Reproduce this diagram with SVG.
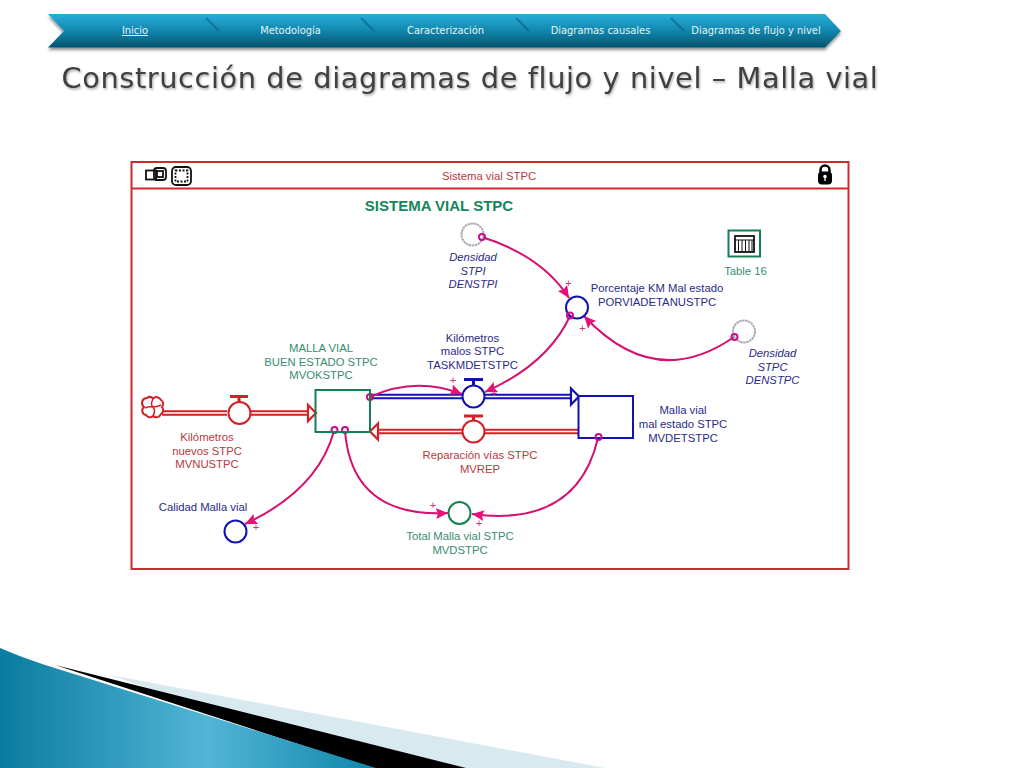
<svg xmlns="http://www.w3.org/2000/svg" width="1024" height="768" viewBox="0 0 1024 768">
<style>
text{font-family:"Liberation Sans",Arial,sans-serif;font-size:11.3px;text-anchor:middle}
.nav{font-family:"DejaVu Sans",sans-serif;font-size:9.9px;fill:#e4f3f8}
.red{fill:#b8383c}.blue{fill:#2a2a8a}.green{fill:#3a8c70}.pl{fill:#c8307e;font-size:11px}
.i{font-style:italic}
.rf{fill:#fff;stroke:#d32027;stroke-width:2}
.bf{fill:#fff;stroke:#1212b0;stroke-width:2}
.gf{fill:#fff;stroke:#148050;stroke-width:2}
.gc{fill:#fff;stroke:#a8a8b4;stroke-width:2;stroke-dasharray:2.500 .6}
.lnk{fill:none;stroke:#d5106f;stroke-width:2;marker-end:url(#ah)}
.dot{fill:none;stroke:#c8108c;stroke-width:2}
.pipeR{stroke:#d32027;stroke-width:5.500;fill:none}
.pipeB{stroke:#1212b0;stroke-width:5.500;fill:none}
.inner{stroke:#fff;stroke-width:1.300;fill:none}
.ic{fill:none;stroke:#111;stroke-width:1.800}
</style>
<defs>
<marker id="ah" markerUnits="userSpaceOnUse" markerWidth="14" markerHeight="12" refX="12" refY="5.500" orient="auto"><path d="M0 0L12 5.500L0 11L2 5.500Z" fill="#e6107a"/></marker>
<linearGradient id="bar" x1="0" y1="0" x2="0" y2="1"><stop offset="0" stop-color="#28aedb"/><stop offset=".5" stop-color="#1187ad"/><stop offset="1" stop-color="#04536f"/></linearGradient>
<linearGradient id="wave" x1="0" y1="0" x2="1" y2="0"><stop offset="0" stop-color="#0a7c9f"/><stop offset=".55" stop-color="#52b5d6"/><stop offset="1" stop-color="#0f86a9"/></linearGradient>
<filter id="sh" x="-5%" y="-20%" width="110%" height="150%"><feDropShadow dx="0" dy="2.500" stdDeviation="1.500" flood-color="#000" flood-opacity=".45"/></filter>
<filter id="ts" x="-5%" y="-20%" width="110%" height="150%"><feDropShadow dx="1" dy="1.500" stdDeviation="1" flood-color="#000" flood-opacity=".35"/></filter>
</defs>
<rect width="1024" height="768" fill="#fff"/>
<g id="footer">
<path d="M110 675L605 768H380Z" fill="#d9e9f0"/>
<path d="M55 665L466 768H372Z" fill="#000"/>
<path d="M0 648Q28 660 58 669L376 768H0Z" fill="url(#wave)"/>
</g>
<g id="nav">
<path d="M48 14H825L841 31L825 47.500H48L64 31Z" fill="url(#bar)" filter="url(#sh)"/>
<path d="M206 18L219 31M361 18L374 31M516 18L529 31M671 18L684 31" stroke="#0a5f7f" stroke-width="2" opacity=".6"/>
<text class="nav" x="135" y="34" text-decoration="underline">Inicio</text>
<text class="nav" x="290.500" y="34">Metodología</text>
<text class="nav" x="445.500" y="34">Caracterización</text>
<text class="nav" x="600.500" y="34">Diagramas causales</text>
<text class="nav" x="756" y="34">Diagramas de flujo y nivel</text>
</g>
<text id="title" x="470" y="88" style="font-family:'DejaVu Sans',sans-serif;font-size:28.800px;fill:#404040;letter-spacing:.6px" filter="url(#ts)">Construcción de diagramas de flujo y nivel – Malla vial</text>
<g id="frame">
<rect x="131.500" y="162" width="717" height="407" fill="#fff" stroke="#cc2a30" stroke-width="2"/>
<path d="M131.500 188.500H848.500" stroke="#cc2a30" stroke-width="2"/>
<text class="red" x="489" y="180">Sistema vial STPC</text>
<text x="439" y="211" style="font-size:15px;font-weight:bold;fill:#14875a">SISTEMA VIAL STPC</text>
<g id="icons">
<rect class="ic" x="146" y="170.500" width="10" height="9"/><rect class="ic" x="154" y="168" width="12" height="12" rx="3" stroke-width="2.400"/><rect class="ic" x="157" y="171" width="6" height="6"/>
<rect class="ic" x="172" y="167" width="19" height="18" rx="4" stroke-width="2.400"/><rect class="ic" x="175.500" y="170.500" width="12" height="11" stroke-dasharray="2 1.500" stroke-width="1"/>
<path d="M820.500 172V170a4.500 4.500 0 0 1 9 0V172" fill="none" stroke="#000" stroke-width="2.500"/><rect x="818" y="171.500" width="14" height="13" rx="4" fill="#000"/><circle cx="825" cy="176.500" r="1.800" fill="#fff"/><path d="M825 177V181" stroke="#fff" stroke-width="1.300"/>
</g>
</g>
<g id="connectors">
<path class="pipeR" d="M162 413H227M250 413H308"/><path class="inner" d="M162 413H227M250 413H308"/>
<path d="M308 405L316 413L308 421Z" fill="#fff" stroke="#d32027" stroke-width="2.200"/>
<path class="pipeB" d="M370 396.500H462M485 396.500H571"/><path class="inner" d="M370 396.500H462M485 396.500H571"/>
<path d="M571 388.500L579 396.500L571 404.500Z" fill="#fff" stroke="#1212b0" stroke-width="2.200"/>
<path class="pipeR" d="M578 431.500H485M462 431.500H378"/><path class="inner" d="M578 431.500H485M462 431.500H378"/>
<path d="M378 423.500L370 431.500L378 439.500Z" fill="#fff" stroke="#d32027" stroke-width="2.200"/>
<path class="lnk" d="M370 397Q415 376 462 394"/>
<path class="lnk" d="M570 316Q548 364 485 392"/>
<path class="lnk" d="M482 237Q542 256 569 298"/>
<path class="lnk" d="M734 337Q655 392 584 316"/>
<path class="lnk" d="M334 431Q318 490 245 524"/>
<path class="lnk" d="M345 431Q352 518 448 513"/>
<path class="lnk" d="M598 438Q577 528 472 514"/>
<circle class="dot" cx="370" cy="397" r="3"/>
<circle class="dot" cx="334.500" cy="430" r="3"/>
<circle class="dot" cx="345" cy="430" r="3"/>
</g>
<g id="source">
<path d="M147 398a4.500 4.500 0 0 1 6 0.500a5 5 0 0 1 8 1.500a4.500 4.500 0 0 1 1 7a4.500 4.500 0 0 1 -1 7a5 5 0 0 1 -8 2a4.500 4.500 0 0 1 -7 -1a4.500 4.500 0 0 1 -2 -8a5 5 0 0 1 3 -9z" fill="#fff" stroke="#d32027" stroke-width="2"/>
<path d="M153 399q-3 6 0 8q4 0 8 -2M153 416q3 -5 0 -9q-4 -1 -8 1" fill="none" stroke="#d32027" stroke-width="1.500"/>
</g>
<g id="flow-nuevos">
<path d="M230 396.500H248M239 398V402" stroke="#d32027" stroke-width="3" fill="none"/>
<circle class="rf" cx="239.500" cy="413" r="11"/>
<text class="red"><tspan x="207" y="441">Kilómetros</tspan><tspan x="207" y="454.500">nuevos STPC</tspan><tspan x="207" y="468">MVNUSTPC</tspan></text>
</g>
<g id="stock-buen">
<rect x="315.500" y="390" width="54.500" height="42" fill="#fff" fill-opacity="0" stroke="#148050" stroke-width="2"/>
<text class="green"><tspan x="321" y="352">MALLA VIAL</tspan><tspan x="321" y="365.500">BUEN ESTADO STPC</tspan><tspan x="321" y="379">MVOKSTPC</tspan></text>
</g>
<g id="flow-malos">
<path d="M464 379.500H483M473.500 381V385" stroke="#1212b0" stroke-width="3" fill="none"/>
<circle class="bf" cx="473.500" cy="396.500" r="11"/>
<text class="blue"><tspan x="472.500" y="342">Kilómetros</tspan><tspan x="472.500" y="355">malos STPC</tspan><tspan x="472.500" y="369">TASKMDETSTPC</tspan></text>
<text class="pl" x="453" y="384">+</text><text class="pl" x="494" y="397">+</text>
</g>
<g id="flow-reparacion">
<path d="M464 416H483M473.500 417V421" stroke="#d32027" stroke-width="3" fill="none"/>
<circle class="rf" cx="473.500" cy="431.500" r="11"/>
<text class="red"><tspan x="480" y="459">Reparación vías STPC</tspan><tspan x="480" y="473">MVREP</tspan></text>
</g>
<g id="stock-malo">
<rect x="578.500" y="396" width="54.500" height="42" fill="#fff" stroke="#1212b0" stroke-width="2"/>
<circle class="dot" cx="598.500" cy="437" r="3"/>
<text class="blue"><tspan x="683" y="414">Malla vial</tspan><tspan x="683" y="428">mal estado STPC</tspan><tspan x="683" y="442">MVDETSTPC</tspan></text>
</g>
<g id="densidad-stpi">
<circle class="gc" cx="472.500" cy="234.500" r="11"/>
<circle class="dot" cx="482" cy="237" r="3"/>
<text class="blue i"><tspan x="473" y="261">Densidad</tspan><tspan x="473" y="274.500">STPI</tspan><tspan x="473" y="288">DENSTPI</tspan></text>
</g>
<g id="porcentaje">
<circle cx="577" cy="307.500" r="11" fill="none" stroke="#1212b0" stroke-width="2"/>
<circle class="dot" cx="570" cy="315.500" r="3"/>
<text class="blue"><tspan x="657" y="292">Porcentaje KM Mal estado</tspan><tspan x="657" y="306">PORVIADETANUSTPC</tspan></text>
<text class="pl" x="568.500" y="287">+</text><text class="pl" x="582.500" y="332">+</text>
</g>
<g id="densidad-stpc">
<circle class="gc" cx="744" cy="331.500" r="11"/>
<circle class="dot" cx="734.500" cy="337" r="3"/>
<text class="blue i"><tspan x="772.500" y="357">Densidad</tspan><tspan x="772.500" y="370.500">STPC</tspan><tspan x="772.500" y="384">DENSTPC</tspan></text>
</g>
<g id="table16">
<rect x="728.500" y="230.500" width="31.500" height="26" fill="#fff" stroke="#148050" stroke-width="2"/>
<rect x="735" y="236" width="19" height="16" class="ic" stroke-width="1.300"/>
<path d="M735 240H754M738.500 240V252M742 240V252M745.500 240V252M749 240V252M752 240V252" stroke="#111" stroke-width="1"/>
<text class="green" x="745.500" y="275">Table 16</text>
</g>
<g id="calidad">
<circle class="bf" cx="235.500" cy="531.500" r="11"/>
<text class="blue" x="203" y="511">Calidad Malla vial</text>
<text class="pl" x="256" y="531">+</text>
</g>
<g id="total">
<circle class="gf" cx="459.500" cy="513" r="11"/>
<text class="green"><tspan x="460" y="540">Total Malla vial STPC</tspan><tspan x="460" y="554">MVDSTPC</tspan></text>
<text class="pl" x="433" y="509">+</text><text class="pl" x="479" y="527">+</text>
</g>
</svg>
